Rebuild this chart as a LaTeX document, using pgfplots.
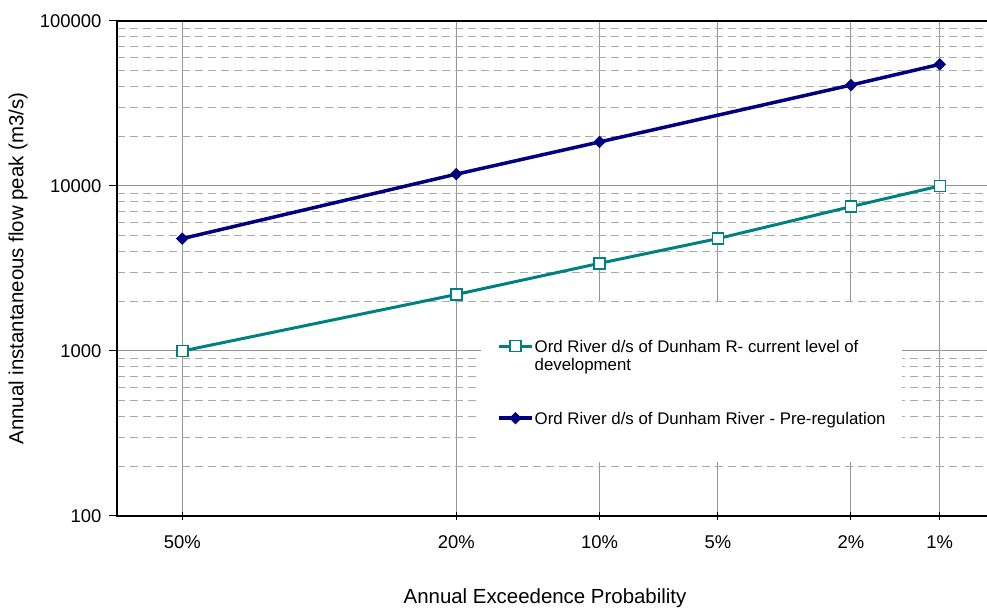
\documentclass[border=0pt]{standalone}
\usepackage{pgfplots}
\pgfplotsset{compat=1.18}
\usepackage{fontspec}
\setmainfont{Liberation Sans}

\definecolor{cteal}{RGB}{0,128,128}
\definecolor{cnavy}{RGB}{0,0,128}
\definecolor{gridmaj}{RGB}{150,150,150}
\definecolor{gridmin}{RGB}{170,170,170}

\newcommand{\chartfont}{\fontsize{18.5}{21}\selectfont}
\newcommand{\labfont}{\fontsize{20.5}{23}\selectfont}
\newcommand{\legfont}{\fontsize{16.9}{20}\selectfont}

\begin{document}
\begin{tikzpicture}
\useasboundingbox (-117bp,-94bp) rectangle (870bp,516bp);
\begin{axis}[
    scale only axis,
    width=878bp, height=495bp,
    ymode=log,
    xmin=-0.2006, xmax=2.4960,
    ymin=100, ymax=100000,
    % normal probability positions of the AEP values
    xtick={0,0.8416,1.2816,1.6449,2.0537,2.3263},
    xticklabels={50\%,20\%,10\%,5\%,2\%,1\%},
    ytick={100,1000,10000,100000},
    yticklabels={100,1000,10000,100000},
    minor ytick={200,300,400,500,600,700,800,900,2000,3000,4000,5000,6000,7000,8000,9000,20000,30000,40000,50000,60000,70000,80000,90000},
    xmajorgrids, ymajorgrids, yminorgrids,
    major grid style={gridmaj, line width=1bp},
    minor grid style={gridmin, line width=1bp, dash pattern=on 8bp off 5bp},
    minor tick length=0pt,
    major tick length=8bp,
    xtick align=center, ytick align=outside,
    xtick pos=bottom, ytick pos=left,
    tick style={black, line width=1bp},
    axis line style={black, line width=1.5bp},
    tick label style={font=\chartfont},
    xticklabel style={yshift=-12bp},
    yticklabel style={xshift=-4bp},
    /pgf/number format/assume math mode=true,
    xlabel={Annual Exceedence Probability},
    ylabel={Annual instantaneous flow peak (m3/s)},
    every axis x label/.style={at={(axis description cs:0.4875,-0.1656)},anchor=center,font=\labfont},
    every axis y label/.style={at={(axis description cs:-0.11276,0.5)},rotate=90,anchor=center,font=\labfont},
    legend style={at={(axis description cs:0.41458,0.43232)}, anchor=north west,
        draw=none, fill=white, inner xsep=16bp, inner ysep=34bp,
        row sep=52bp, column sep=1bp, cells={anchor=west},
        nodes={inner sep=0pt, text height=16bp, text depth=4bp, font=\legfont}},
    legend image code/.code={\draw[mark repeat=2,mark phase=2,#1] plot coordinates {(0bp,0bp)(16.5bp,0bp)(33bp,0bp)};},
]
\addplot[cteal, line width=3bp, mark=square*, mark size=5.5bp,
    mark options={fill=white, draw=cteal, line width=1.5bp}]
    coordinates {(0,1000)(0.8416,2200)(1.2816,3400)(1.6449,4800)(2.0537,7500)(2.3263,10000)};
\addlegendentry{\begin{tabular}[t]{@{}l@{}}Ord River d/s of Dunham R- current level of\\[-1.5bp]development\end{tabular}}
\addplot[cnavy, line width=3.5bp, mark=square*, mark size=3.9bp,
    mark options={rotate=45, fill=cnavy, draw=cnavy, line width=1bp}]
    coordinates {(0,4800)(0.8416,11800)(1.2816,18500)(2.0537,40900)(2.3263,54600)};
\addlegendentry{Ord River d/s of Dunham River - Pre-regulation}
\end{axis}
\end{tikzpicture}
\end{document}
